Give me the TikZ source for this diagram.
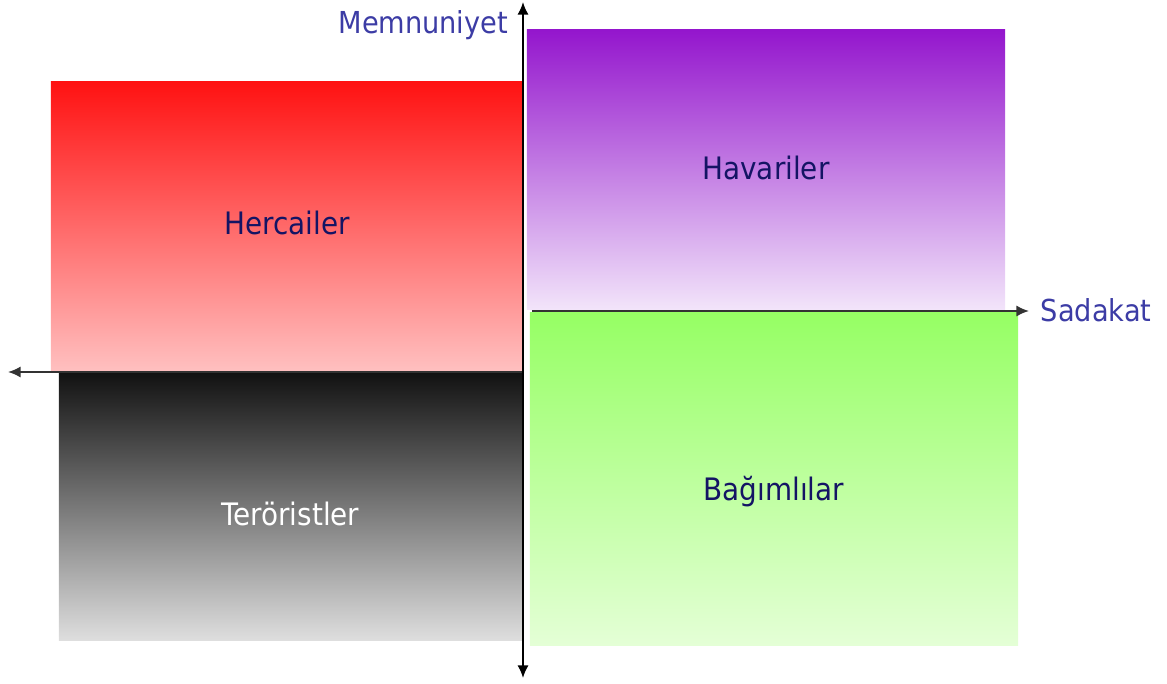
\documentclass[tikz,border=0pt]{standalone}
\usepackage{fontspec}
\setmainfont{DejaVu Sans Condensed}
\usetikzlibrary{arrows.meta}

\definecolor{labelnavy}{RGB}{20,20,100}
\definecolor{axisblue}{RGB}{60,60,165}

\begin{document}
\begin{tikzpicture}[x=0.025cm, y=-0.025cm,
    quad/.style={rectangle, inner sep=0pt, draw=none, text=labelnavy,
                 text depth=5.3pt, font=\fontsize{22}{26}\selectfont},
    axis/.style={line width=1.4pt, -{Latex[length=9pt, width=8pt]}},
    axislabel/.style={text=axisblue, font=\fontsize{21.5}{26}\selectfont}]

    \useasboundingbox (0,0) rectangle (1167,684);

    % The four quadrants
    \node[quad, minimum width=11.8cm, minimum height=7.225cm, text height=16pt,
          top color={rgb,255:red,255;green,18;blue,18},
          bottom color={rgb,255:red,255;green,192;blue,192}]
          (herc) at (287,226.5) {Hercailer};
    \node[quad, minimum width=11.95cm, minimum height=6.975cm, text height=20pt,
          top color={rgb,255:red,148;green,22;blue,205},
          bottom color={rgb,255:red,242;green,228;blue,250}]
          (hav) at (766,169.5) {Havariler};
    \node[quad, minimum width=11.575cm, minimum height=6.675cm, text height=32pt,
          text=white,
          top color={rgb,255:red,18;green,18;blue,18},
          bottom color={rgb,255:red,222;green,222;blue,222}]
          (teror) at (290.5,506.5) {Teröristler};
    \node[quad, minimum width=12.2cm, minimum height=8.3cm, text height=36pt,
          top color={rgb,255:red,150;green,255;blue,100},
          bottom color={rgb,255:red,228;green,255;blue,214}]
          (bag) at (774,479) {Bağımlılar};

    % Axis end points
    \coordinate (ytop) at (523,2);
    \coordinate (ybot) at (523,678);
    \coordinate (xl0) at (523,372);
    \coordinate (xl1) at (8,372);
    \coordinate (xr0) at (532,311);
    \coordinate (xr1) at (1029,311);

    % Draw the axes
    \draw[axis, black!80] (xl0) -- (xl1);
    \draw[axis, black!80] (xr0) -- (xr1);
    \draw[axis, {Latex[length=9pt, width=8pt]}-{Latex[length=9pt, width=8pt]}] (ybot) -- (ytop);

    % Axis names
    \node[axislabel, anchor=east] (memn) at (513,25) {Memnuniyet};
    \node[axislabel, anchor=west] (sad) at (1036,310) {Sadakat};

\end{tikzpicture}
\end{document}
